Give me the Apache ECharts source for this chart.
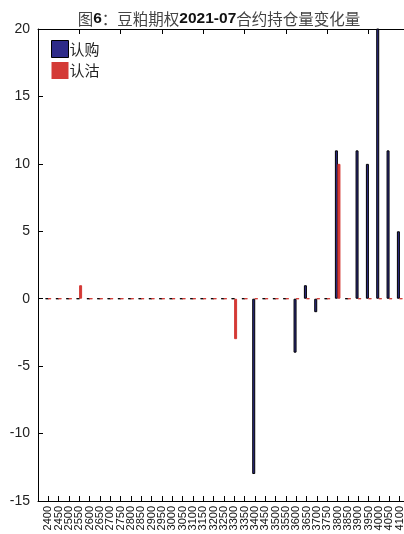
<!DOCTYPE html>
<html><head><meta charset="utf-8">
<script src="https://cdn.jsdelivr.net/npm/echarts@6/dist/echarts.min.js"></script>
<style>html,body{margin:0;padding:0;background:#fff;overflow:hidden}#c{width:410px;height:534px}</style>
</head><body><div id="c"></div>
<script>
const categories = ['2400','2450','2500','2550','2600','2650','2700','2750','2800','2850','2900','2950','3000','3050','3100','3150','3200','3250','3300','3350','3400','3450','3500','3550','3600','3650','3700','3750','3800','3850','3900','3950','4000','4050','4100'];
const callValues = [0,0,0,0,0,0,0,0,0,0,0,0,0,0,0,0,0,0,0,0,-13,0,0,0,-4,1,-1,0,11,0,11,10,22,11,5];
const putValues  = [0,0,0,1,0,0,0,0,0,0,0,0,0,0,0,0,0,0,-3,0,0,0,0,0,0,0,0,0,10,0,0,0,0,0,0];
const yTicks = {min:-15, max:20, interval:5};

const axisCats = [''].concat(categories, ['']);
const pad = a => ['-'].concat(a, ['-']);
const font = '"Liberation Sans", "Noto Sans CJK SC", sans-serif';

const chart = echarts.init(document.getElementById('c'));
chart.setOption({
  animation:false,
  textStyle:{fontFamily:font},
  title:{
    text:'{n|图}{b|6}{n|：豆粕期权}{b|2021-07}{n|合约持仓量变化量}',
    left:214, textAlign:'center', top:6,
    textStyle:{rich:{
      n:{fontSize:15.5, color:'#444', fontWeight:'normal', fontFamily:'"Noto Sans CJK SC", sans-serif'},
      b:{fontSize:15.5, color:'#111', fontWeight:'bold', fontFamily:font}
    }}
  },
  legend:{
    orient:'vertical', left:46, top:35, itemWidth:17, itemHeight:17, itemGap:4, icon:'rect',
    textStyle:{fontSize:15, color:'#222', fontFamily:'"Noto Sans CJK SC", sans-serif', padding:[0,0,0,-4]},
    data:[{name:'认购', itemStyle:{color:'#2e2b88', borderColor:'#000', borderWidth:1}},
          {name:'认沽', itemStyle:{color:'#d43a36', borderWidth:0}}]
  },
  grid:{left:38, right:0, top:29, bottom:33},
  xAxis:[{
    type:'category', data:axisCats, boundaryGap:false,
    axisLine:{onZero:false, lineStyle:{color:'#000', width:1}},
    axisTick:{inside:true, length:5, lineStyle:{color:'#000'}},
    axisLabel:{rotate:90, fontSize:11, color:'#111', margin:5, interval:0},
    splitLine:{show:false}
  },{
    type:'category', data:axisCats, boundaryGap:false, position:'top',
    axisLine:{onZero:false, lineStyle:{color:'#000', width:1}},
    axisTick:{inside:true, length:5, lineStyle:{color:'#000'}},
    axisLabel:{show:false}
  }],
  yAxis:{
    type:'value', min:yTicks.min, max:yTicks.max, interval:yTicks.interval,
    axisLine:{show:true, lineStyle:{color:'#000'}},
    axisTick:{show:true, inside:true, length:5, lineStyle:{color:'#000'}},
    axisLabel:{fontSize:14, color:'#222', margin:8},
    splitLine:{show:false}
  },
  series:[
    {name:'认购', type:'bar', data:pad(callValues), barWidth:3, barGap:'-15%',
     itemStyle:{color:'#2e2b88', borderColor:'#000', borderWidth:1}},
    {name:'认沽', type:'bar', data:pad(putValues), barWidth:3,
     itemStyle:{color:'#d43a36', borderColor:'#d43a36', borderWidth:1}}
  ]
});
</script></body></html>
